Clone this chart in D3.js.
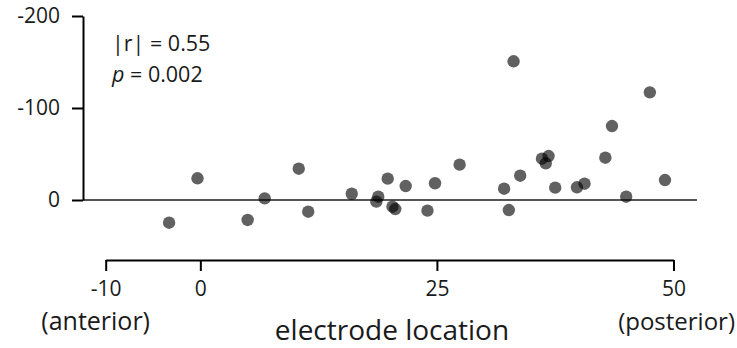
<!DOCTYPE html>
<html>
<head>
<meta charset="utf-8">
<script src="https://cdn.jsdelivr.net/npm/d3@7"></script>
<style>
  body { margin: 0; background: #fff; }
  text { font-family: "Open Sans", "Liberation Sans", sans-serif; fill: #1a1a1a; }
</style>
</head>
<body>
<svg id="chart"></svg>
<script>
const width = 737
const height = 348

// electrode location (x) and value (y, axis is flipped: negative is up)
const locs = [-3.3, -0.3, 5.0, 6.8, 10.4, 11.4, 16.0, 18.6, 18.8, 19.8, 20.3, 20.6, 21.7, 24.0, 24.8,
  27.4, 32.1, 32.6, 33.1, 33.8, 36.1, 36.8, 36.5, 37.5, 39.8, 40.6, 42.8, 43.5, 45.0, 47.5, 49.1]
const vals = [24.7, -23.6, 21.7, -1.8, -34, 12.7, -6.8, 1.8, -3.6, -23.2, 7.3, 9.8, -15.2, 11.6, -18.2,
  -38.4, -12.3, 10.9, -150.8, -26.4, -44.9, -47.8, -39.9, -13.4, -13.8, -17.7, -46, -80.4, -3.6, -117, -21.7]

const xTicks = [-10, 0, 25, 50]
const yTicks = [-200, -100, 0]
const statLines = ["|r| = 0.55", "p = 0.002"]

const points = locs.map((d, i) => ({ loc: d, val: vals[i] }))

const svg = d3.select("#chart")
  .attr("width", width)
  .attr("height", height)

const x = d3.scaleLinear()
  .domain([-10, 50])
  .range([105.7, 673.5])

const y = d3.scaleLinear()
  .domain([-200, 0])
  .range([16, 200])

// zero line
svg.append("line")
  .attr("x1", 83).attr("x2", 697)
  .attr("y1", y(0)).attr("y2", y(0))
  .attr("stroke", "#555")
  .attr("stroke-width", 2)

const yAxis = g => g
  .attr("transform", "translate(83,0)")
  .call(d3.axisLeft(y).tickValues(yTicks).tickFormat(d => String(d)).tickSize(11).tickSizeOuter(0).tickPadding(12))

const xAxis = g => g
  .attr("transform", "translate(0,260)")
  .call(d3.axisBottom(x).tickValues(xTicks).tickFormat(d => String(d)).tickSize(11).tickSizeOuter(0).tickPadding(10))

svg.append("g").attr("class", "yaxis").call(yAxis)
svg.append("g").attr("class", "xaxis").call(xAxis)

svg.selectAll(".yaxis, .xaxis").selectAll("path, line")
  .attr("stroke", "#000")
  .attr("stroke-width", 2)
svg.selectAll(".yaxis text, .xaxis text")
  .attr("font-size", 21)
  .attr("font-family", null)
  .attr("fill", "#1a1a1a")

// dots
svg.append("g")
  .selectAll("circle")
  .data(points)
  .join("circle")
  .attr("cx", d => x(d.loc))
  .attr("cy", d => y(d.val))
  .attr("r", 6.2)
  .attr("fill", "#000")
  .attr("fill-opacity", 0.62)

// stats
svg.append("text")
  .attr("x", 112).attr("y", 51)
  .attr("font-size", 21.5)
  .text(statLines[0])
const stat2 = svg.append("text")
  .attr("x", 112).attr("y", 82)
  .attr("font-size", 21.5)
stat2.append("tspan").attr("font-style", "italic").text(statLines[1].slice(0, 1))
stat2.append("tspan").text(statLines[1].slice(1))

// axis notes
svg.append("text")
  .attr("x", 150).attr("y", 330)
  .attr("text-anchor", "end")
  .attr("font-size", 25)
  .text("(anterior)")
svg.append("text")
  .attr("x", 735).attr("y", 330)
  .attr("text-anchor", "end")
  .attr("font-size", 24)
  .text("(posterior)")
svg.append("text")
  .attr("x", 392).attr("y", 340)
  .attr("text-anchor", "middle")
  .attr("font-size", 28)
  .text("electrode location")
</script>
</body>
</html>
